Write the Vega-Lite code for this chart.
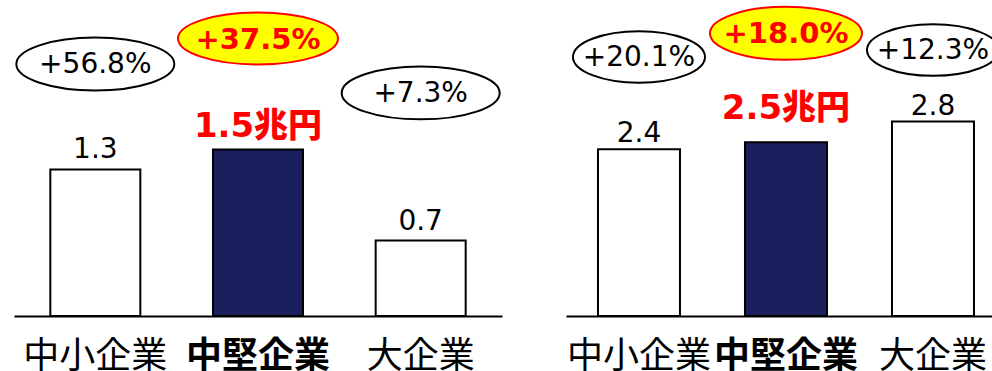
{
  "$schema": "https://vega.github.io/schema/vega-lite/v6.json",
  "padding": {"left": 12, "top": 0, "right": 0, "bottom": 0},
  "background": "white",
  "bounds": "flush",
  "spacing": 64,
  "datasets": {
    "fy": [
      {"cat": "中小企業", "value": 1.32, "label": "1.3", "growth": "+56.8%", "note_y": 2.27, "hl": false},
      {"cat": "中堅企業", "value": 1.5, "label": "1.5兆円", "growth": "+37.5%", "note_y": 2.5, "hl": true},
      {"cat": "大企業", "value": 0.68, "label": "0.7", "growth": "+7.3%", "note_y": 2.01, "hl": false}
    ],
    "sy": [
      {"cat": "中小企業", "value": 2.4, "label": "2.4", "growth": "+20.1%", "note_y": 3.73, "hl": false},
      {"cat": "中堅企業", "value": 2.5, "label": "2.5兆円", "growth": "+18.0%", "note_y": 4.07, "hl": true},
      {"cat": "大企業", "value": 2.8, "label": "2.8", "growth": "+12.3%", "note_y": 3.83, "hl": false}
    ]
  },
  "config": {
    "view": {"stroke": null},
    "axis": {"grid": false}
  },
  "hconcat": [
    {
      "width": 488,
      "height": 316,
      "data": {"name": "fy"},
      "encoding": {
        "x": {
          "field": "cat", "type": "nominal", "sort": null, "title": null,
          "scale": {"paddingInner": 0.4467, "paddingOuter": 0.2233},
          "axis": {
            "domainColor": "black", "domainWidth": 2, "ticks": false,
            "labelAngle": 0, "labelFont": "Noto Sans CJK JP", "labelFontSize": 36,
            "labelColor": "black", "labelPadding": 23,
            "labelFontWeight": {"condition": {"test": "datum.value === '中堅企業'", "value": "bold"}, "value": "normal"}
          }
        }
      },
      "layer": [
        {
          "mark": {"type": "bar", "stroke": "black", "strokeWidth": 2},
          "encoding": {
            "y": {"field": "value", "type": "quantitative", "axis": null, "scale": {"domain": [0, 2.847], "nice": false}},
            "fill": {"condition": {"test": "datum.hl", "value": "#1a1f5e"}, "value": "white"}
          }
        },
        {
          "transform": [{"filter": "!datum.hl"}],
          "mark": {"type": "text", "font": "DejaVu Sans", "fontSize": 28, "color": "black", "baseline": "alphabetic", "dy": -11},
          "encoding": {"y": {"field": "value", "type": "quantitative"}, "text": {"field": "label"}}
        },
        {
          "transform": [{"filter": "datum.hl"}],
          "mark": {"type": "text", "font": "'DejaVu Sans', 'Noto Sans CJK JP'", "fontSize": 34, "fontWeight": 900, "color": "#ff0000", "baseline": "alphabetic", "dy": -13},
          "encoding": {"y": {"field": "value", "type": "quantitative"}, "text": {"field": "label"}}
        },
        {
          "transform": [{"filter": "!datum.hl"}],
          "mark": {"type": "point", "filled": false, "fill": "white", "fillOpacity": 1, "stroke": "black", "strokeWidth": 2, "opacity": 1, "size": 24964,
            "shape": "M1,0C1,0.185,0.552,0.335,0,0.335C-0.552,0.335,-1,0.185,-1,0C-1,-0.185,-0.552,-0.335,0,-0.335C0.552,-0.335,1,-0.185,1,0Z"},
          "encoding": {"y": {"field": "note_y", "type": "quantitative"}}
        },
        {
          "transform": [{"filter": "datum.hl"}],
          "mark": {"type": "point", "filled": false, "fill": "#ffff00", "fillOpacity": 1, "stroke": "#ff0000", "strokeWidth": 2, "opacity": 1, "size": 25600,
            "shape": "M1,0C1,0.18,0.552,0.325,0,0.325C-0.552,0.325,-1,0.18,-1,0C-1,-0.18,-0.552,-0.325,0,-0.325C0.552,-0.325,1,-0.18,1,0Z"},
          "encoding": {"y": {"field": "note_y", "type": "quantitative"}}
        },
        {
          "transform": [{"filter": "!datum.hl"}],
          "mark": {"type": "text", "font": "DejaVu Sans", "fontSize": 28, "color": "black", "baseline": "middle", "dy": 1},
          "encoding": {"y": {"field": "note_y", "type": "quantitative"}, "text": {"field": "growth"}}
        },
        {
          "transform": [{"filter": "datum.hl"}],
          "mark": {"type": "text", "font": "DejaVu Sans", "fontSize": 29, "fontWeight": "bold", "color": "#ff0000", "baseline": "middle", "dy": 1},
          "encoding": {"y": {"field": "note_y", "type": "quantitative"}, "text": {"field": "growth"}}
        }
      ]
    },
    {
      "width": 428,
      "height": 316,
      "data": {"name": "sy"},
      "encoding": {
        "x": {
          "field": "cat", "type": "nominal", "sort": null, "title": null,
          "scale": {"paddingInner": 0.4422, "paddingOuter": 0.1769, "align": 0.615},
          "axis": {
            "domainColor": "black", "domainWidth": 2, "ticks": false,
            "labelAngle": 0, "labelFont": "Noto Sans CJK JP", "labelFontSize": 36,
            "labelColor": "black", "labelPadding": 23,
            "labelFontWeight": {"condition": {"test": "datum.value === '中堅企業'", "value": "bold"}, "value": "normal"}
          }
        }
      },
      "layer": [
        {
          "mark": {"type": "bar", "stroke": "black", "strokeWidth": 2},
          "encoding": {
            "y": {"field": "value", "type": "quantitative", "axis": null, "scale": {"domain": [0, 4.55], "nice": false}},
            "fill": {"condition": {"test": "datum.hl", "value": "#1a1f5e"}, "value": "white"}
          }
        },
        {
          "transform": [{"filter": "!datum.hl"}],
          "mark": {"type": "text", "font": "DejaVu Sans", "fontSize": 28, "color": "black", "baseline": "alphabetic", "dy": -7},
          "encoding": {"y": {"field": "value", "type": "quantitative"}, "text": {"field": "label"}}
        },
        {
          "transform": [{"filter": "datum.hl"}],
          "mark": {"type": "text", "font": "'DejaVu Sans', 'Noto Sans CJK JP'", "fontSize": 34, "fontWeight": 900, "color": "#ff0000", "baseline": "alphabetic", "dy": -23},
          "encoding": {"y": {"field": "value", "type": "quantitative"}, "text": {"field": "label"}}
        },
        {
          "transform": [{"filter": "!datum.hl"}],
          "mark": {"type": "point", "clip": true, "filled": false, "fill": "white", "fillOpacity": 1, "stroke": "black", "strokeWidth": 2, "opacity": 1, "size": 17424,
            "shape": "M1,0C1,0.215,0.552,0.39,0,0.39C-0.552,0.39,-1,0.215,-1,0C-1,-0.215,-0.552,-0.39,0,-0.39C0.552,-0.39,1,-0.215,1,0Z"},
          "encoding": {"y": {"field": "note_y", "type": "quantitative"}}
        },
        {
          "transform": [{"filter": "datum.hl"}],
          "mark": {"type": "point", "filled": false, "fill": "#ffff00", "fillOpacity": 1, "stroke": "#ff0000", "strokeWidth": 2, "opacity": 1, "size": 23104,
            "shape": "M1,0C1,0.193,0.552,0.349,0,0.349C-0.552,0.349,-1,0.193,-1,0C-1,-0.193,-0.552,-0.349,0,-0.349C0.552,-0.349,1,-0.193,1,0Z"},
          "encoding": {"y": {"field": "note_y", "type": "quantitative"}}
        },
        {
          "transform": [{"filter": "!datum.hl"}],
          "mark": {"type": "text", "clip": true, "font": "DejaVu Sans", "fontSize": 28, "color": "black", "baseline": "middle", "dy": 1},
          "encoding": {"y": {"field": "note_y", "type": "quantitative"}, "text": {"field": "growth"}}
        },
        {
          "transform": [{"filter": "datum.hl"}],
          "mark": {"type": "text", "font": "DejaVu Sans", "fontSize": 29, "fontWeight": "bold", "color": "#ff0000", "baseline": "middle", "dy": 1},
          "encoding": {"y": {"field": "note_y", "type": "quantitative"}, "text": {"field": "growth"}}
        }
      ]
    }
  ]
}
